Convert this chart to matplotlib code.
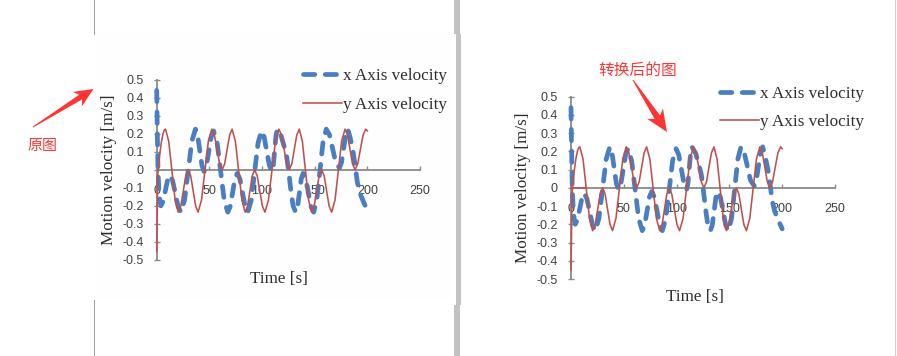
import math
import matplotlib
matplotlib.use("Agg")
import matplotlib.pyplot as plt
from matplotlib.patches import Rectangle, Polygon
from matplotlib.lines import Line2D

# ---------------- data ----------------
series_labels = ["x Axis velocity", "y Axis velocity"]

time_x = [0, 0.6, 1.2, 2, 3, 4,
          6.1, 8.25, 10.4, 12.5,
          15.1, 17.75, 20.4, 23,
          26.45, 29.9, 33.35, 36.8,
          38.85, 40.9, 42.95, 45,
          47.25, 49.5, 51.75, 54,
          57.4, 60.75, 64.1, 67.5,
          69.75, 72, 74.25, 76.5,
          79, 81.5, 84, 86.5,
          89.75, 93, 96.25, 99.5,
          102, 104.5, 107, 109.5,
          110.75, 112, 113.25, 114.5,
          118, 121, 123.5, 125.5, 127.5, 129.5, 132,
          133.75, 135.5, 137.25, 139,
          141.5, 144, 146.5, 149,
          152, 155, 158, 161,
          164, 167, 170, 173.5,
          175.5, 177.5, 179.5, 181.5,
          184, 186.5, 188.5, 190.5, 193, 196.5, 200]
vel_x = [0.44, 0.2, 0.0, -0.1, -0.17, -0.2,
         -0.175, -0.115, -0.055, -0.03,
         -0.06, -0.133, -0.205, -0.235,
         -0.168, -0.005, 0.158, 0.225,
         0.19, 0.108, 0.024, -0.01,
         0.023, 0.103, 0.182, 0.215,
         0.149, -0.01, -0.169, -0.235,
         -0.204, -0.128, -0.051, -0.02,
         -0.051, -0.128, -0.204, -0.235,
         -0.169, -0.01, 0.149, 0.215,
         0.182, 0.103, 0.023, -0.01,
         0.024, 0.108, 0.19, 0.225,
         0.19, 0.13, 0.07, -0.02, -0.12, -0.2, -0.235,
         -0.204, -0.128, -0.051, -0.02,
         -0.051, -0.128, -0.204, -0.235,
         -0.168, -0.005, 0.158, 0.225,
         0.194, 0.118, 0.041, 0.01,
         0.041, 0.118, 0.194, 0.225,
         0.17, 0.1, 0.02, -0.07, -0.13, -0.18, -0.225]

time_y = [0, 1, 2, 3, 4.5, 6, 7.2, 8.4,
          11.4, 14.45, 17.5, 20.5,
          22.9, 25.25, 27.6, 30,
          32.3, 34.65, 37.0, 39.3,
          42.55, 45.8, 49.05, 52.3,
          54.8, 57.25, 59.7, 62.2,
          64.55, 66.9, 69.25, 71.6,
          74.7, 77.8, 80.9, 84,
          86.25, 88.5, 90.75, 93,
          95.45, 97.9, 100.35, 102.8,
          106.1, 109.4, 112.7, 116,
          118.5, 120.95, 123.4, 125.9,
          128.3, 130.65, 133.0, 135.4,
          138.3, 141.25, 144.2, 147.1,
          149.5, 151.85, 154.2, 156.6,
          159.0, 161.35, 163.7, 166.1,
          169.3, 172.45, 175.6, 178.8,
          181.2, 183.55, 185.9, 188.3,
          190.85, 193.4, 195.95, 198.5, 200]
vel_y = [-0.45, -0.03, 0.04, 0.09, 0.155, 0.2, 0.22, 0.225,
         0.158, -0.005, -0.168, -0.235,
         -0.201, -0.118, -0.034, 0.0,
         -0.034, -0.118, -0.201, -0.235,
         -0.168, -0.005, 0.158, 0.225,
         0.192, 0.113, 0.033, 0.0,
         0.033, 0.113, 0.192, 0.225,
         0.158, -0.005, -0.168, -0.235,
         -0.201, -0.118, -0.034, 0.0,
         -0.034, -0.118, -0.201, -0.235,
         -0.168, -0.005, 0.158, 0.225,
         0.192, 0.113, 0.033, 0.0,
         0.033, 0.113, 0.192, 0.225,
         0.158, -0.005, -0.168, -0.235,
         -0.201, -0.118, -0.034, 0.0,
         -0.034, -0.118, -0.201, -0.235,
         -0.168, -0.005, 0.158, 0.225,
         0.192, 0.113, 0.033, 0.0,
         0.033, 0.113, 0.192, 0.225, 0.215]

# extra flat red segment that appears only in the converted chart
flat_t = [0, 14]
flat_v = [0, 0]

xtick_vals = [0, 50, 100, 150, 200, 250]
xtick_labels = ["0", "50", "100", "150", "200", "250"]
ytick_vals = [-0.5, -0.4, -0.3, -0.2, -0.1, 0, 0.1, 0.2, 0.3, 0.4, 0.5]
ytick_labels = ["-0.5", "-0.4", "-0.3", "-0.2", "-0.1", "0",
                "0.1", "0.2", "0.3", "0.4", "0.5"]
xlabel_text = "Time [s]"
ylabel_text = "Motion velocity [m/s]"
note_left = "原图"
note_right = "转换后的图"

# ---------------- styles ----------------
W, H = 897, 356
BLUE = "#4a7ec0"
RED = "#c0504d"
AXIS = "#8a8a8a"
TICKTXT = "#404040"
LABTXT = "#2e2e2e"
NOTE = "#ff3535"
SERIF = "Liberation Serif"
SANS = "Liberation Sans"

fig = plt.figure(figsize=(W / 100, H / 100), dpi=100)
fig.patch.set_facecolor("white")


def fx(x):
    return x / W


def fy(y):
    return 1 - y / H


# background panel of the left screenshot + separators
fig.add_artist(Rectangle((fx(95), fy(300)), fx(452) - fx(95), fy(34) - fy(300),
                         transform=fig.transFigure, facecolor="#fefefe",
                         edgecolor="none", zorder=0))
for (x, y0, y1, c, w) in [(93.5, 0, 34, "#a0a0a0", 1.0),
                          (93.5, 300, 356, "#a0a0a0", 1.0),
                          (894.5, 0, 356, "#cfcfcf", 1.0)]:
    fig.add_artist(Line2D([fx(x), fx(x)], [fy(y0), fy(y1)], transform=fig.transFigure,
                          color=c, lw=w * 0.72, zorder=0))
for (x0, x1, y0, y1) in [(454, 459.5, 0, 34), (455.5, 461, 34, 305), (454, 460, 305, 356)]:
    fig.add_artist(Rectangle((fx(x0), fy(y1)), fx(x1) - fx(x0), fy(y0) - fy(y1),
                             transform=fig.transFigure, facecolor="#c2c2c2",
                             edgecolor="none", zorder=0))


def make_chart(left_px, right_px, top_px, bottom_px, legend_xy, xlab_xy, extra=False):
    ax = fig.add_axes([fx(left_px), fy(bottom_px), fx(right_px) - fx(left_px),
                       fy(top_px) - fy(bottom_px)])
    ax.patch.set_alpha(0)
    ax.plot(time_x, vel_x, color=BLUE, lw=3.4, ls=(0, (2.4, 2.2)),
            dash_capstyle="round", label=series_labels[0], zorder=3, clip_on=False)
    ax.plot(time_y, vel_y, color=RED, lw=1.15, label=series_labels[1], zorder=4,
            clip_on=False)
    if extra:
        ax.plot(flat_t, flat_v, color=RED, lw=1.15, zorder=4, clip_on=False)
    ax.set_xlim(0, 250)
    ax.set_ylim(-0.5, 0.5)
    for s in ("top", "right"):
        ax.spines[s].set_visible(False)
    ax.spines["bottom"].set_position(("data", 0))
    for s in ("left", "bottom"):
        ax.spines[s].set_color(AXIS)
        ax.spines[s].set_linewidth(1.3)
        ax.spines[s].set_zorder(2)
    ax.set_xticks(xtick_vals, xtick_labels)
    ax.set_yticks(ytick_vals, ytick_labels)
    ax.tick_params(axis="x", direction="in", length=3, width=1, color=AXIS,
                   pad=11, labelsize=9, labelcolor=TICKTXT)
    ax.tick_params(axis="y", direction="inout", length=4, width=1, color=AXIS,
                   pad=7.5, labelsize=9, labelcolor=TICKTXT)
    for lab in ax.get_xticklabels() + ax.get_yticklabels():
        lab.set_family(SANS)
    ax.set_ylabel(ylabel_text, fontsize=12.3, family=SERIF, color=LABTXT, va="center")
    ax.yaxis.set_label_coords(-0.18, 0.5)
    ax.set_xlabel(xlabel_text, fontsize=12.3, family=SERIF, color=LABTXT, va="center")
    ax.xaxis.set_label_coords(*xlab_xy)
    leg = ax.legend(loc="upper left", bbox_to_anchor=legend_xy, frameon=False,
                    borderpad=0, borderaxespad=0, handlelength=2.3,
                    handletextpad=0.02, labelspacing=0.72,
                    prop={"family": SERIF, "size": 12.3})
    for t in leg.get_texts():
        t.set_color(LABTXT)
    return ax


make_chart(156.7, 420, 79.5, 260, (0.556, 1.062), (0.465, -0.103))
make_chart(571, 835, 96.7, 279, (0.564, 1.058), (0.47, -0.10), extra=True)


def red_arrow(tail, tip, head_len, head_w, shaft_w):
    tx, ty = tail
    hx, hy = tip
    dx, dy = hx - tx, hy - ty
    L = math.hypot(dx, dy)
    ux, uy = dx / L, dy / L
    nx, ny = -uy, ux
    bx, by = hx - ux * head_len, hy - uy * head_len
    cx, cy = hx - ux * head_len * 0.8, hy - uy * head_len * 0.8
    pts = [(tx + nx * 0.5, ty + ny * 0.5),
           (cx + nx * shaft_w / 2, cy + ny * shaft_w / 2),
           (bx + nx * head_w / 2, by + ny * head_w / 2),
           (hx, hy),
           (bx - nx * head_w / 2, by - ny * head_w / 2),
           (cx - nx * shaft_w / 2, cy - ny * shaft_w / 2),
           (tx - nx * 0.5, ty - ny * 0.5)]
    fig.add_artist(Polygon([(fx(x), fy(y)) for x, y in pts], closed=True,
                           transform=fig.transFigure, facecolor=NOTE,
                           edgecolor="none", zorder=6))


red_arrow((33, 127), (93.5, 89), 19, 17, 5.5)
red_arrow((633, 80), (667, 132), 22, 19, 6.5)

fig.text(fx(42), fy(145.5), note_left, color=NOTE, fontsize=10.8,
         family=["Noto Sans CJK SC", "DejaVu Sans"], ha="center", va="center")
fig.text(fx(638), fy(70), note_right, color=NOTE, fontsize=11.3,
         family=["Noto Sans CJK SC", "DejaVu Sans"], ha="center", va="center")

fig.savefig("out.png", dpi=100, facecolor="white")
